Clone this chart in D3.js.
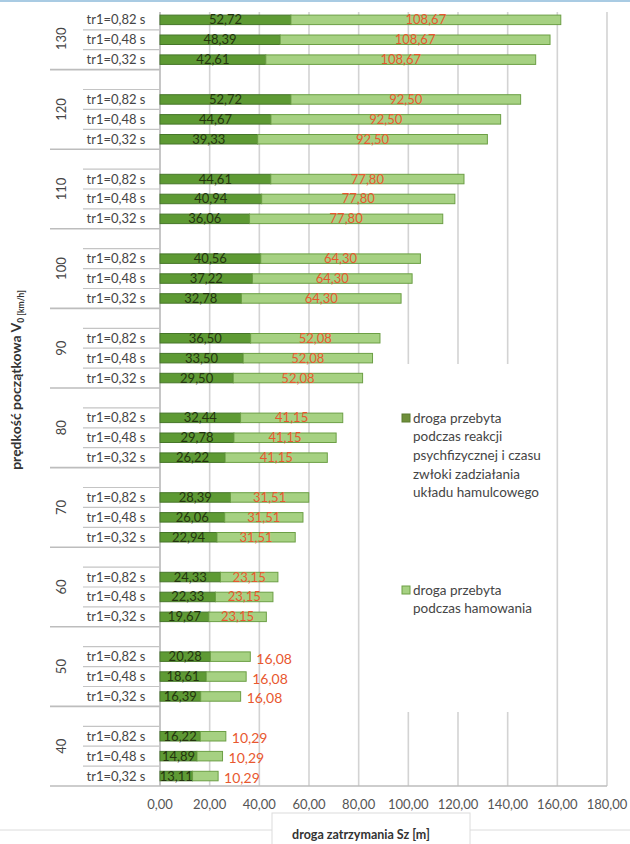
<!DOCTYPE html>
<html>
<head>
<meta charset="utf-8">
<title>droga zatrzymania</title>
<script src="https://d3js.org/d3.v7.min.js"></script>
<style>
  body { margin: 0; background: #fff; }
  svg text { font-family: Lato, "Open Sans", sans-serif; }
</style>
</head>
<body>
<svg id="chart" width="630" height="844"></svg>
<script>
// speeds (group labels), top to bottom
const speeds = [130, 120, 110, 100, 90, 80, 70, 60, 50, 40];
const reactionLabels = ["tr1=0,82 s", "tr1=0,48 s", "tr1=0,32 s"];
// distance during reaction time, per reaction time
const reaction082 = [52.72, 52.72, 44.61, 40.56, 36.50, 32.44, 28.39, 24.33, 20.28, 16.22];
const reaction048 = [48.39, 44.67, 40.94, 37.22, 33.50, 29.78, 26.06, 22.33, 18.61, 14.89];
const reaction032 = [42.61, 39.33, 36.06, 32.78, 29.50, 26.22, 22.94, 19.67, 16.39, 13.11];
// braking distance, same for each reaction time
const braking = [108.67, 92.50, 77.80, 64.30, 52.08, 41.15, 31.51, 23.15, 16.08, 10.29];
const xTicks = [0, 20, 40, 60, 80, 100, 120, 140, 160, 180];

const reactionSeries = [reaction082, reaction048, reaction032];

const svg = d3.select("#chart");
const fmt = d3.formatLocale({decimal: ",", thousands: " ", grouping: [3], currency: ["", ""]}).format(".2f");

const darkFill = "#5e9a34", darkStroke = "#46772a";
const lightFill = "#a6d182", lightStroke = "#6c9f45";

// each group = blank slot + 3 rows
const slots = [];
speeds.forEach(function (s) {
  slots.push(s + "|blank");
  reactionLabels.forEach(function (r) { slots.push(s + "|" + r); });
});

const x = d3.scaleLinear().domain([0, 180]).range([160, 607]);
const y = d3.scaleBand().domain(slots).range([-10, 786]).paddingInner(0).paddingOuter(0);
const plotTop = 12, plotBottom = 786;
const barH = 9.5;

// top border line
svg.append("line").attr("x1", 0).attr("x2", 630).attr("y1", 1).attr("y2", 1)
  .style("stroke", "#a9cbe3").style("stroke-width", 2);

// vertical gridlines
svg.append("g").selectAll("line").data(xTicks).enter().append("line")
  .attr("x1", function (d) { return x(d); }).attr("x2", function (d) { return x(d); })
  .attr("y1", plotTop).attr("y2", plotBottom)
  .style("stroke", function (d) { return d === 0 ? "#b8b8b8" : "#d3d3d3"; })
  .style("stroke-width", 1.6);

// legend background hides part of the grid
svg.append("rect").attr("x", 386).attr("y", 364).attr("width", 150).attr("height", 348).attr("fill", "#fff");

// bars
const rows = [];
speeds.forEach(function (s, gi) {
  reactionLabels.forEach(function (r, ri) {
    rows.push({speed: s, label: r, gi: gi, key: s + "|" + r, react: reactionSeries[ri][gi], brake: braking[gi]});
  });
});

const bars = svg.append("g");
bars.selectAll("rect.dark").data(rows).enter().append("rect").attr("class", "dark")
  .attr("x", x(0))
  .attr("y", function (d) { return y(d.key) + (y.bandwidth() - barH) / 2; })
  .attr("width", function (d) { return x(d.react) - x(0); })
  .attr("height", barH)
  .attr("fill", darkFill).attr("stroke", darkStroke).attr("stroke-width", 1);
bars.selectAll("rect.light").data(rows).enter().append("rect").attr("class", "light")
  .attr("x", function (d) { return x(d.react); })
  .attr("y", function (d) { return y(d.key) + (y.bandwidth() - barH) / 2; })
  .attr("width", function (d) { return x(d.react + d.brake) - x(d.react); })
  .attr("height", barH)
  .attr("fill", lightFill).attr("stroke", lightStroke).attr("stroke-width", 1);

// value labels
bars.selectAll("text.dark").data(rows).enter().append("text").attr("class", "dark")
  .attr("x", function (d) { return (x(0) + x(d.react)) / 2; })
  .attr("y", function (d) { return y(d.key) + y.bandwidth() / 2 + 4.5; })
  .attr("text-anchor", "middle").attr("font-size", 13).attr("fill", "#24350f")
  .text(function (d) { return fmt(d.react); });
bars.selectAll("text.light").data(rows).enter().append("text").attr("class", "light")
  .attr("x", function (d) {
    return d.speed <= 50 ? x(d.react + d.brake) + 6 : (x(d.react) + x(d.react + d.brake)) / 2;
  })
  .attr("y", function (d) { return y(d.key) + y.bandwidth() / 2 + (d.speed <= 50 ? 7 : 4.5); })
  .attr("text-anchor", function (d) { return d.speed <= 50 ? "start" : "middle"; })
  .attr("font-size", function (d) { return d.speed <= 50 ? 14 : 13; })
  .attr("fill", "#e8582f")
  .text(function (d) { return fmt(d.brake); });

// category axis: row labels and separators
const cat = svg.append("g");
cat.selectAll("text.row").data(rows).enter().append("text").attr("class", "row")
  .attr("x", 116).attr("y", function (d) { return y(d.key) + y.bandwidth() / 2 + 4.5; })
  .attr("text-anchor", "middle").attr("font-size", 13).attr("fill", "#454545")
  .text(function (d) { return d.label; });

// short lines above each row (inside a group)
cat.selectAll("line.inner").data(rows.filter(function (d) { return y(d.key) > plotTop; })).enter()
  .append("line").attr("class", "inner")
  .attr("x1", 83).attr("x2", 160)
  .attr("y1", function (d) { return y(d.key); }).attr("y2", function (d) { return y(d.key); })
  .style("stroke", "#c4c4c4").style("stroke-width", 1.2);

// long lines between groups, plus the bottom line
const groupLines = speeds.slice(1).map(function (s) { return y(s + "|blank"); }).concat([plotBottom]);
cat.selectAll("line.group").data(groupLines).enter().append("line").attr("class", "group")
  .attr("x1", 50).attr("x2", function (d) { return d === plotBottom ? 607 : 160; })
  .attr("y1", function (d) { return d; }).attr("y2", function (d) { return d; })
  .style("stroke", "#bdbdbd").style("stroke-width", 1.6);

// group labels (speeds)
cat.selectAll("text.group").data(speeds).enter().append("text").attr("class", "group")
  .attr("transform", function (s) {
    const top = Math.max(y(s + "|blank"), plotTop - 4);
    const bottom = y(s + "|" + reactionLabels[2]) + y.bandwidth();
    return "translate(66," + ((top + bottom) / 2) + ") rotate(-90)";
  })
  .attr("text-anchor", "middle").attr("font-size", 13).attr("fill", "#454545")
  .text(function (s) { return s; });

// x tick labels
svg.append("g").selectAll("text").data(xTicks).enter().append("text")
  .attr("x", function (d) { return x(d); }).attr("y", 809)
  .attr("text-anchor", "middle").attr("font-size", 13).attr("fill", "#555")
  .text(function (d) { return fmt(d); });

// y axis title
const yt = svg.append("text")
  .attr("transform", "translate(21,380) rotate(-90)")
  .attr("text-anchor", "middle").attr("font-size", 14).attr("font-weight", "bold").attr("fill", "#333");
yt.append("tspan").text("prędkość początkowa V");
yt.append("tspan").attr("font-size", 8.5).attr("dy", 3).text("0 [km/h]");

// bottom frame and x title
svg.append("rect").attr("x", 272).attr("y", 813).attr("width", 198).attr("height", 40)
  .attr("fill", "none").attr("stroke", "#dcdcdc");
svg.append("line").attr("x1", 0).attr("x2", 272).attr("y1", 830).attr("y2", 830).style("stroke", "#dcdcdc");
svg.append("line").attr("x1", 470).attr("x2", 630).attr("y1", 830).attr("y2", 830).style("stroke", "#dcdcdc");
svg.append("text").attr("x", 361).attr("y", 839)
  .attr("text-anchor", "middle").attr("font-size", 12.5).attr("font-weight", "bold").attr("fill", "#333")
  .text("droga zatrzymania Sz [m]");

// legend
const legendItems = [
  {fill: "#6f8f3a", stroke: "#5a7a2e", y: 418,
   lines: ["droga przebyta", "podczas reakcji", "psychfizycznej i czasu", "zwłoki zadziałania", "układu hamulcowego"]},
  {fill: lightFill, stroke: lightStroke, y: 590,
   lines: ["droga przebyta", "podczas hamowania"]}
];
const lg = svg.append("g").selectAll("g").data(legendItems).enter().append("g");
lg.append("rect").attr("x", 402).attr("y", function (d) { return d.y - 4; })
  .attr("width", 8).attr("height", 8)
  .attr("fill", function (d) { return d.fill; }).attr("stroke", function (d) { return d.stroke; });
lg.each(function (d) {
  d3.select(this).selectAll("text").data(d.lines).enter().append("text")
    .attr("x", 413).attr("y", function (t, i) { return d.y + 4.5 + i * 18.7; })
    .attr("font-size", 13.5).attr("fill", "#454545")
    .text(function (t) { return t; });
});
</script>
</body>
</html>
